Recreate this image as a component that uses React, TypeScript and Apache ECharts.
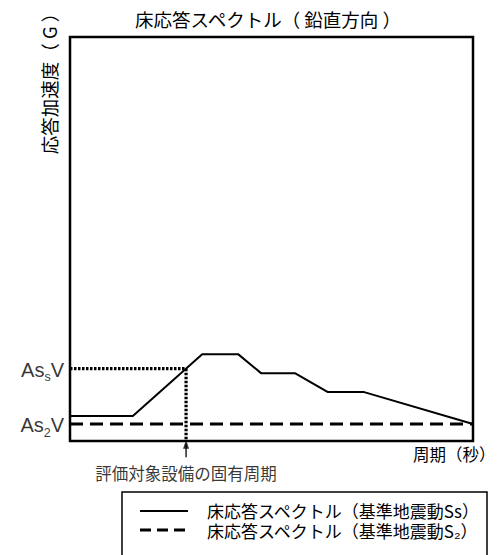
import React, { useEffect, useRef } from "react";
import * as echarts from "echarts";

const titleText = "床応答スペクトル（ 鉛直方向 ）";
const yAxisName = "応答加速度（ G ）";
const xAxisName = "周期（秒）";
const targetLabel = "評価対象設備の固有周期";
const legendNames = ["床応答スペクトル（基準地震動Ss）", "床応答スペクトル（基準地震動S₂）"];

const periods = [0, 1.56, 3.28, 4.17, 4.74, 5.58, 6.4, 7.3, 10];
const ssAccel = [0.62, 0.62, 2.15, 2.15, 1.68, 1.68, 1.21, 1.21, 0.42];
const s2Periods = [0, 10];
const s2Accel = [0.42, 0.42];
const targetPeriod = 2.88;
const targetAccel = 1.79;
const arrowFrom = -0.4;
const arrowTo = -0.08;
const labelAt = -0.78;

const JP = "'Noto Sans CJK JP', 'Liberation Sans', sans-serif";
const LAT = "'Liberation Sans', Arial, sans-serif";

export default function App() {
  const ref = useRef<HTMLDivElement>(null);
  useEffect(() => {
    if (!ref.current) return;
    const chart = echarts.init(ref.current, undefined, { renderer: "svg" });
    const rich = {
      a: { fontSize: 20, fontFamily: LAT, color: "#000", lineHeight: 22, verticalAlign: "bottom" },
      s: { fontSize: 12.5, fontFamily: LAT, color: "#000", lineHeight: 22, verticalAlign: "bottom", padding: [0, 0, -4, 0] },
    };
    chart.setOption({
      animation: false,
      grid: {
        left: 70,
        top: 37,
        right: 24,
        bottom: 114,
        show: true,
        borderColor: "#000",
        borderWidth: 2.5,
        backgroundColor: "transparent",
      },
      xAxis: {
        type: "value",
        min: 0,
        max: 10,
        axisLine: { show: false },
        axisTick: { show: false },
        axisLabel: { show: false },
        splitLine: { show: false },
      },
      yAxis: {
        type: "value",
        min: 0,
        max: 10,
        axisLine: { show: false },
        axisTick: { show: false },
        axisLabel: { show: false },
        splitLine: { show: false },
      },
      series: [
        {
          type: "line",
          data: periods.map((p, i) => [p, ssAccel[i]]),
          symbol: "none",
          lineStyle: { color: "#000", width: 2 },
          z: 5,
        },
        {
          type: "line",
          data: s2Periods.map((p, i) => [p, s2Accel[i]]),
          symbol: "none",
          lineStyle: { color: "#000", width: 3, type: [13, 7] },
          z: 4,
        },
        {
          type: "line",
          data: [
            [0, targetAccel],
            [targetPeriod, targetAccel],
          ],
          symbol: "none",
          lineStyle: { color: "#000", width: 3.2, type: [2.5, 1.5] },
          z: 3,
        },
        {
          type: "line",
          data: [
            [targetPeriod, targetAccel],
            [targetPeriod, 0],
          ],
          symbol: "none",
          lineStyle: { color: "#000", width: 3.2, type: [2.5, 1.5] },
          z: 3,
        },
        {
          type: "line",
          clip: false,
          data: [
            [targetPeriod, arrowFrom],
            [targetPeriod, arrowTo],
          ],
          symbol: "none",
          lineStyle: { color: "#000", width: 1.3 },
        },
        {
          type: "scatter",
          clip: false,
          data: [[targetPeriod, arrowTo]],
          symbol: "triangle",
          symbolSize: [6, 9],
          itemStyle: { color: "#000" },
        },
        {
          type: "scatter",
          clip: false,
          symbolSize: 0,
          data: [[targetPeriod, labelAt]],
          label: {
            show: true,
            position: "inside",
            formatter: targetLabel,
            color: "#000",
            fontSize: 16.5,
            fontFamily: JP,
          },
        },
        {
          type: "scatter",
          clip: false,
          symbolSize: 0,
          data: [
            {
              value: [0, targetAccel],
              label: { formatter: "{a|As}{s|s}{a|V}" },
            },
            {
              value: [0, s2Accel[0]],
              label: { formatter: "{a|As}{s|2}{a|V}" },
            },
          ],
          label: { show: true, position: "left", distance: 6, rich },
        },
      ],
      graphic: [
        {
          type: "text",
          x: 268,
          y: 19,
          style: { text: titleText, fontSize: 18.5, fontFamily: JP, fill: "#000", align: "center", verticalAlign: "middle" },
        },
        {
          type: "text",
          x: 49,
          y: 79,
          rotation: Math.PI / 2,
          style: { text: yAxisName, fontSize: 18.5, fontFamily: JP, fill: "#000", align: "center", verticalAlign: "middle" },
        },
        {
          type: "text",
          x: 413,
          y: 454,
          style: { text: xAxisName, fontSize: 16.5, fontFamily: JP, fill: "#000", align: "left", verticalAlign: "middle" },
        },
        {
          type: "rect",
          shape: { x: 122, y: 492, width: 365, height: 80 },
          style: { fill: "#fff", stroke: "#000", lineWidth: 1.5 },
        },
        {
          type: "line",
          shape: { x1: 140, y1: 511, x2: 188, y2: 511 },
          style: { stroke: "#000", lineWidth: 2 },
        },
        {
          type: "line",
          shape: { x1: 140, y1: 530, x2: 188, y2: 530 },
          style: { stroke: "#000", lineWidth: 3, lineDash: [11, 6] },
        },
        {
          type: "text",
          x: 207,
          y: 510.5,
          style: { text: legendNames[0], fontSize: 17, lineHeight: 17, fontFamily: JP, fill: "#000", align: "left", verticalAlign: "middle" },
        },
        {
          type: "text",
          x: 207,
          y: 530.5,
          style: { text: legendNames[1], fontSize: 17, lineHeight: 17, fontFamily: JP, fill: "#000", align: "left", verticalAlign: "middle" },
        },
      ],
    });
    return () => chart.dispose();
  }, []);
  return <div ref={ref} style={{ width: 497, height: 555, position: "absolute", left: 0, top: 0 }} />;
}
